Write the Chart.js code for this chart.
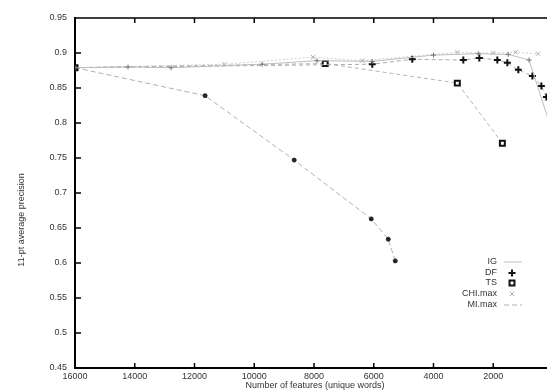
<!DOCTYPE html>
<html>
<head>
<meta charset="utf-8">
<script src="https://cdn.jsdelivr.net/npm/chart.js@4/dist/chart.umd.min.js"></script>
<style>
  html, body { margin: 0; padding: 0; background: #fff; overflow: hidden; }
  #wrap { width: 560px; height: 390px; }
</style>
</head>
<body>
<div id="wrap"><canvas id="chart" width="560" height="390"></canvas></div>
<script>
// Series (x = number of features, y = 11-pt avg precision)
const igX = [16000, 14225, 12784, 9735, 7900, 6050, 4000, 2500, 1500, 800, 120];
const igY = [0.879, 0.880, 0.879, 0.884, 0.889, 0.888, 0.897, 0.899, 0.898, 0.890, 0.80];

const dfX = [16000, 6050, 4710, 3002, 2466, 1863, 1528, 1160, 690, 389, 220];
const dfY = [0.879, 0.884, 0.891, 0.890, 0.893, 0.890, 0.886, 0.876, 0.867, 0.853, 0.837];

const tsX = [16000, 7625, 3203, 1695];
const tsY = [0.879, 0.885, 0.857, 0.771];

const chiX = [16000, 11000, 8030, 6386, 3200, 2000, 1250, 500];
const chiY = [0.879, 0.884, 0.894, 0.889, 0.901, 0.900, 0.901, 0.899];

const miX = [16000, 11645, 8663, 6084, 5514, 5280];
const miY = [0.879, 0.839, 0.747, 0.663, 0.634, 0.603];

const xTicks = [16000, 14000, 12000, 10000, 8000, 6000, 4000, 2000];
const yTicks = [0.95, 0.9, 0.85, 0.8, 0.75, 0.7, 0.65, 0.6, 0.55, 0.5, 0.45];

const toPoints = (xs, ys) => xs.map((x, i) => ({ x: x, y: ys[i] }));

const FONT = "'Liberation Sans', 'DejaVu Sans', sans-serif";

// axes frame, inward ticks, titles and legend (gnuplot look)
const gnuplotBits = {
  id: "gnuplotBits",
  afterDraw(chart) {
    const { ctx, chartArea: a, scales } = chart;
    ctx.save();
    ctx.strokeStyle = "#000";
    ctx.lineWidth = 1.5;
    ctx.beginPath();
    ctx.moveTo(a.left, a.top);
    ctx.lineTo(a.right, a.top);
    xTicks.forEach((v) => {
      const px = scales.x.getPixelForValue(v);
      ctx.moveTo(px, a.bottom);
      ctx.lineTo(px, a.bottom - 5);
      ctx.moveTo(px, a.top);
      ctx.lineTo(px, a.top + 5);
    });
    yTicks.forEach((v) => {
      const py = scales.y.getPixelForValue(v);
      ctx.moveTo(a.left, py);
      ctx.lineTo(a.left + 6, py);
    });
    ctx.stroke();

    // axis titles
    ctx.fillStyle = "#333";
    ctx.font = "9px " + FONT;
    ctx.textAlign = "center";
    ctx.textBaseline = "middle";
    ctx.fillText("Number of features (unique words)", 315, 386);
    ctx.translate(22, 220);
    ctx.rotate(-Math.PI / 2);
    ctx.fillText("11-pt average precision", 0, 0);
    ctx.restore();

    // legend
    ctx.save();
    ctx.font = "9px " + FONT;
    ctx.textAlign = "right";
    ctx.textBaseline = "middle";
    const rows = [262, 273, 283, 294, 305];
    chart.data.datasets.forEach((ds, i) => {
      const y = rows[i];
      ctx.fillStyle = "#333";
      ctx.fillText(ds.label, 497, y);
      if (ds.legendLine) {
        ctx.strokeStyle = ds.borderColor;
        ctx.lineWidth = 1;
        ctx.setLineDash(ds.borderDash || []);
        ctx.beginPath();
        ctx.moveTo(504, y);
        ctx.lineTo(522, y);
        ctx.stroke();
        ctx.setLineDash([]);
      } else {
        ctx.strokeStyle = ds.pointBorderColor;
        ctx.fillStyle = ds.pointBackgroundColor;
        ctx.lineWidth = ds.pointBorderWidth;
        Chart.helpers.drawPoint(ctx, { pointStyle: ds.pointStyle, radius: ds.pointRadius, rotation: 0, borderWidth: ds.pointBorderWidth }, 512, y);
      }
    });
    ctx.restore();
  },
};

new Chart(document.getElementById("chart").getContext("2d"), {
  type: "scatter",
  data: {
    datasets: [
      {
        label: "IG",
        data: toPoints(igX, igY),
        showLine: true,
        legendLine: true,
        borderColor: "#bdbdbd",
        borderWidth: 1,
        pointStyle: "cross",
        pointRadius: 2.5,
        pointBorderColor: "#777",
        pointBackgroundColor: "#777",
        pointBorderWidth: 1,
      },
      {
        label: "DF",
        data: toPoints(dfX, dfY),
        showLine: true,
        borderColor: "#aaa",
        borderWidth: 1,
        borderDash: [4, 3],
        pointStyle: "cross",
        pointRadius: 3.5,
        pointBorderColor: "#111",
        pointBackgroundColor: "#111",
        pointBorderWidth: 2,
      },
      {
        label: "TS",
        data: toPoints(tsX, tsY),
        showLine: true,
        borderColor: "#b5b5b5",
        borderWidth: 1,
        borderDash: [4, 3],
        pointStyle: "rect",
        pointRadius: 3.5,
        pointBorderColor: "#111",
        pointBackgroundColor: "#fff",
        pointBorderWidth: 2,
      },
      {
        label: "CHI.max",
        data: toPoints(chiX, chiY),
        showLine: true,
        borderColor: "#d0d0d0",
        borderWidth: 1,
        borderDash: [2, 2],
        pointStyle: "crossRot",
        pointRadius: 3,
        pointBorderColor: "#aaa",
        pointBackgroundColor: "#aaa",
        pointBorderWidth: 1,
      },
      {
        label: "MI.max",
        data: toPoints(miX, miY),
        showLine: true,
        legendLine: true,
        borderColor: "#b0b0b0",
        borderWidth: 1,
        borderDash: [5, 3],
        pointStyle: "circle",
        pointRadius: 2,
        pointBorderColor: "#222",
        pointBackgroundColor: "#222",
        pointBorderWidth: 1,
      },
    ],
  },
  options: {
    responsive: false,
    animation: false,
    layout: { padding: { left: 0, right: 7, top: 18, bottom: 0 } },
    plugins: { legend: { display: false }, tooltip: { enabled: false } },
    scales: {
      x: {
        type: "linear",
        reverse: true,
        min: 0,
        max: 16000,
        afterFit: (scale) => { scale.height = 22; },
        afterBuildTicks: (scale) => { scale.ticks = xTicks.map((v) => ({ value: v })); },
        ticks: {
          padding: 3,
          color: "#333",
          font: { family: FONT, size: 9 },
          maxRotation: 0,
          callback: (v) => String(v),
        },
        grid: { display: false, drawTicks: false, tickLength: 0 },
        border: { display: true, color: "#000", width: 2 },
      },
      y: {
        min: 0.45,
        max: 0.95,
        afterFit: (scale) => { scale.width = 75; },
        afterBuildTicks: (scale) => { scale.ticks = yTicks.map((v) => ({ value: v })); },
        ticks: {
          padding: 8,
          color: "#333",
          font: { family: FONT, size: 9 },
          callback: (v) => String(parseFloat(v.toFixed(2))),
        },
        grid: { display: false, drawTicks: false, tickLength: 0 },
        border: { display: true, color: "#000", width: 2 },
      },
    },
  },
  plugins: [gnuplotBits],
});
</script>
</body>
</html>
